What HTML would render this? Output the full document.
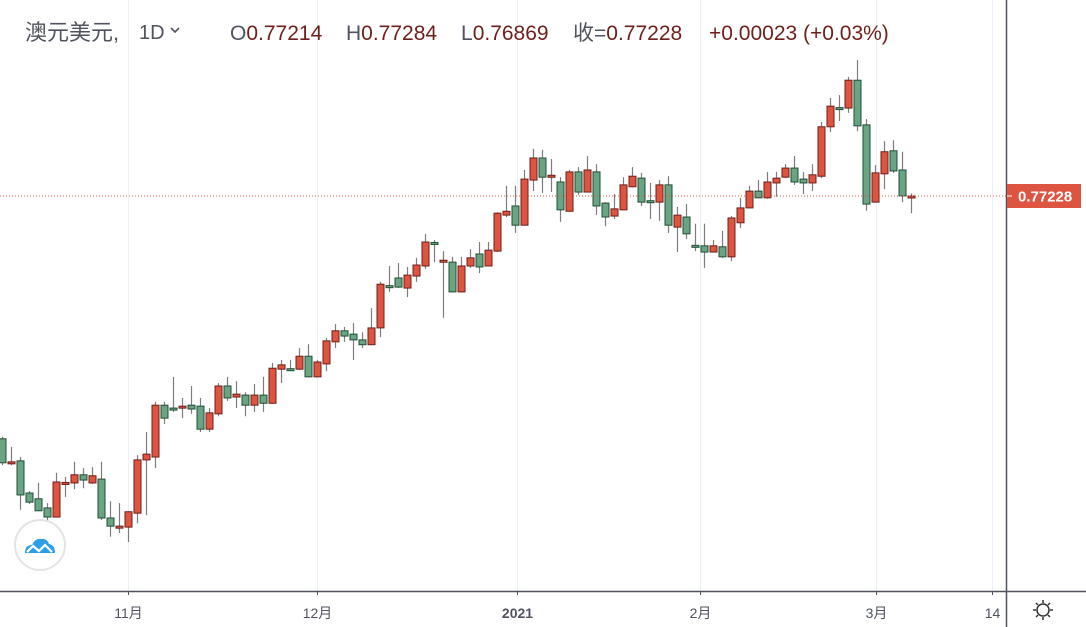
<!DOCTYPE html>
<html><head><meta charset="utf-8">
<style>
html,body{margin:0;padding:0;background:#fff;width:1086px;height:627px;overflow:hidden}
svg{display:block}
text{font-family:"Liberation Sans","Noto Sans CJK SC",sans-serif}
</style></head>
<body>
<svg id="chart" width="1086" height="627" viewBox="0 0 1086 627">
  <g id="grid"></g>
  <g id="candles"></g>
  <g id="axes"></g>
  <g font-size="21">
    <text x="25" y="40" fill="#50535e" font-size="22">澳元美元,</text>
    <text x="139" y="39" fill="#50535e" font-size="20">1D</text>
    <path d="M171 28 l4 4 l4 -4" fill="none" stroke="#50535e" stroke-width="1.6"/>
    <text x="230" y="40" fill="#50535e">O<tspan fill="#6e1f1a">0.77214</tspan></text>
    <text x="346" y="40" fill="#50535e">H<tspan fill="#6e1f1a">0.77284</tspan></text>
    <text x="461" y="40" fill="#50535e">L<tspan fill="#6e1f1a">0.76869</tspan></text>
    <text x="573" y="40" fill="#50535e">收=<tspan fill="#6e1f1a">0.77228</tspan></text>
    <text x="709" y="40" fill="#6e1f1a">+0.00023 (+0.03%)</text>
  </g>
  <g>
    <circle cx="40" cy="545" r="25" fill="#fff" stroke="#e4e4e4" stroke-width="2"/>
    <path d="M25 553 q0 -8 7 -8 q3 -7 9 -6 q6 -1 8 5 q6 1 6 9 z" fill="#2e9fe6"/>
    <path d="M27 552 l6 -6 l6 5 l6 -6 l7 7" fill="none" stroke="#fff" stroke-width="2.2"/>
  </g>
  <g transform="translate(1043,610)" fill="none" stroke="#333" stroke-width="1.5">
    <circle r="6"/>
    <path d="M0 -10 v3 M0 7 v3 M-10 0 h3 M7 0 h3 M-7 -7 l2 2 M5 5 l2 2 M7 -7 l-2 2 M-5 5 l-2 2"/>
  </g>
</svg>
<script>
const opens=[.7217,.7167,.7171,.7104,.7092,.7073,.7054,.7125,.7125,.7142,.7125,.7133,.7052,.7034,.7033,.7062,.7173,.7179,.7287,.7281,.7283,.7287,.7285,.7237,.7269,.7327,.7304,.7308,.7287,.7308,.7291,.7362,.7363,.7362,.7389,.7346,.7373,.7419,.7442,.7435,.7423,.7413,.7448,.7536,.7552,.7531,.7556,.7577,.7626,.7587,.7585,.7523,.7577,.7602,.7577,.7608,.7683,.7702,.7662,.7756,.7802,.7764,.7752,.7691,.7773,.7731,.7773,.7708,.7681,.7694,.7742,.7760,.7713,.7710,.7746,.7658,.7679,.7620,.7619,.7606,.7617,.7596,.7667,.7698,.7733,.7719,.7750,.7762,.7781,.7758,.7750,.7764,.7867,.7907,.7906,.7964,.7871,.7710,.7769,.7817,.7777,.77214];
const highs=[.7221,.7200,.7179,.7108,.7125,.7083,.7146,.7138,.7169,.7156,.7158,.7169,.7087,.7083,.7066,.7183,.7231,.7294,.7294,.7346,.7302,.7327,.7302,.7281,.7333,.7346,.7337,.7314,.7331,.7346,.7375,.7381,.7381,.7406,.7414,.7381,.7427,.7456,.7450,.7458,.7439,.7489,.7544,.7577,.7583,.7575,.7594,.7644,.7631,.7608,.7596,.7596,.7612,.7627,.7627,.7689,.7744,.7744,.7777,.7821,.7819,.7800,.7762,.7777,.7783,.7806,.7789,.7710,.7727,.7762,.7783,.7771,.7750,.7756,.7764,.7700,.7706,.7665,.7665,.7631,.7650,.7681,.7719,.7744,.7756,.7773,.7773,.7789,.7806,.7773,.7789,.7877,.7927,.7933,.7971,.8006,.7883,.7787,.7837,.7839,.7815,.77284];
const lows=[.7162,.7162,.7069,.7081,.7066,.7042,.7053,.7096,.7112,.7114,.7123,.7048,.7013,.7021,.7002,.7041,.7058,.7156,.7248,.7273,.7260,.7269,.7231,.7231,.7264,.7296,.7281,.7264,.7273,.7273,.7290,.7333,.7358,.7360,.7345,.7345,.7358,.7406,.7419,.7381,.7406,.7412,.7429,.7523,.7531,.7512,.7544,.7571,.7585,.7469,.7522,.7522,.7573,.7562,.7576,.7606,.7679,.7646,.7661,.7733,.7729,.7731,.7669,.7690,.7725,.7730,.7683,.7660,.7675,.7693,.7741,.7702,.7675,.7671,.7646,.7606,.7633,.7608,.7573,.7605,.7594,.7587,.7656,.7697,.7718,.7717,.7721,.7760,.7746,.7727,.7733,.7760,.7856,.7879,.7896,.7858,.7692,.7710,.7737,.7771,.7710,.76869];
const closes=[.7167,.7169,.7100,.7085,.7067,.7054,.7127,.7126,.7142,.7131,.7140,.7052,.7035,.7035,.7065,.7173,.7185,.7287,.7260,.7279,.7285,.7279,.7237,.7271,.7327,.7302,.7310,.7287,.7308,.7291,.7364,.7371,.7361,.7389,.7346,.7377,.7421,.7442,.7431,.7423,.7413,.7448,.7539,.7534,.7533,.7558,.7579,.7627,.7624,.7589,.7523,.7577,.7594,.7575,.7610,.7687,.7691,.7662,.7758,.7802,.7762,.7766,.7694,.7773,.7731,.7777,.7702,.7679,.7696,.7746,.7764,.7710,.7711,.7746,.7662,.7683,.7644,.7618,.7606,.7619,.7596,.7677,.7698,.7733,.7719,.7752,.7760,.7781,.7752,.7750,.7767,.7867,.7910,.7905,.7964,.7869,.7706,.7771,.7815,.7775,.7723,.77228];
const timeLabels=["11月","12月","2021","2月","3月","14"];
const timeLabelIdx=[14,35,57.2,77.6,97.1,110];
const lastPrice=0.77228;

const NS="http://www.w3.org/2000/svg";
const plotRight=1006, axisY=591;
function xOf(i){return 2+9*i;}
function yOf(p){return 196-(p-0.77228)*4800;}
function mk(tag,attrs,parent){const e=document.createElementNS(NS,tag);for(const k in attrs)e.setAttribute(k,attrs[k]);parent.appendChild(e);return e;}

const grid=document.getElementById('grid');
const axes=document.getElementById('axes');
const cg=document.getElementById('candles');

timeLabelIdx.forEach((ix,k)=>{
  const x=Math.round(xOf(ix))+0.5;
  const gl=mk('line',{x1:x,x2:x,y1:0,y2:axisY,stroke:'#e8eff5','stroke-width':1},grid);
  
  
  const tk=mk('line',{x1:x,x2:x,y1:axisY,y2:axisY+4,stroke:'#50535e','stroke-width':1},axes);
  
  
  const t=mk('text',{x:x,y:618,'font-size':14,fill:'#50535e','text-anchor':'middle','font-weight':timeLabels[k]==='2021'?'bold':'normal'},axes);
  t.textContent=timeLabels[k];
  
  
});

for(let i=0;i<opens.length;i++){
  const x=xOf(i), up=closes[i]>=opens[i];
  const g=mk('g',{},cg);
  
  
  mk('line',{x1:x+0.5,x2:x+0.5,y1:yOf(highs[i]),y2:yOf(lows[i]),stroke:'#7d7d7d','stroke-width':1.2},g);
  const top=yOf(Math.max(opens[i],closes[i])), bot=yOf(Math.min(opens[i],closes[i]));
  const h=Math.max(bot-top,2);
  mk('rect',{x:x-3,y:top,width:7,height:h,fill:up?'#dd5440':'#6aa583',stroke:up?'#6e1f1a':'#1f4f35','stroke-width':1},g);
}

const pl=mk('line',{x1:0,x2:plotRight,y1:yOf(lastPrice),y2:yOf(lastPrice),stroke:'#e0533f','stroke-width':1,'stroke-dasharray':'1 2'},axes);


const ax=mk('line',{x1:0,x2:1086,y1:axisY+0.5,y2:axisY+0.5,stroke:'#50535e','stroke-width':1.5},axes);


const ay=mk('line',{x1:plotRight+0.5,x2:plotRight+0.5,y1:0,y2:627,stroke:'#50535e','stroke-width':1.5},axes);


const ly=yOf(lastPrice);
const lb=mk('rect',{x:plotRight+1,y:ly-12,width:74,height:24,fill:'#dd5440'},axes);


mk('line',{x1:plotRight+1,x2:plotRight+6,y1:ly,y2:ly,stroke:'#fff','stroke-width':1},axes);
const lt=mk('text',{x:plotRight+12,y:ly+5.5,'font-size':15,'font-weight':'bold',fill:'#fff'},axes);
lt.textContent=lastPrice.toFixed(5);


</script>
</body></html>
